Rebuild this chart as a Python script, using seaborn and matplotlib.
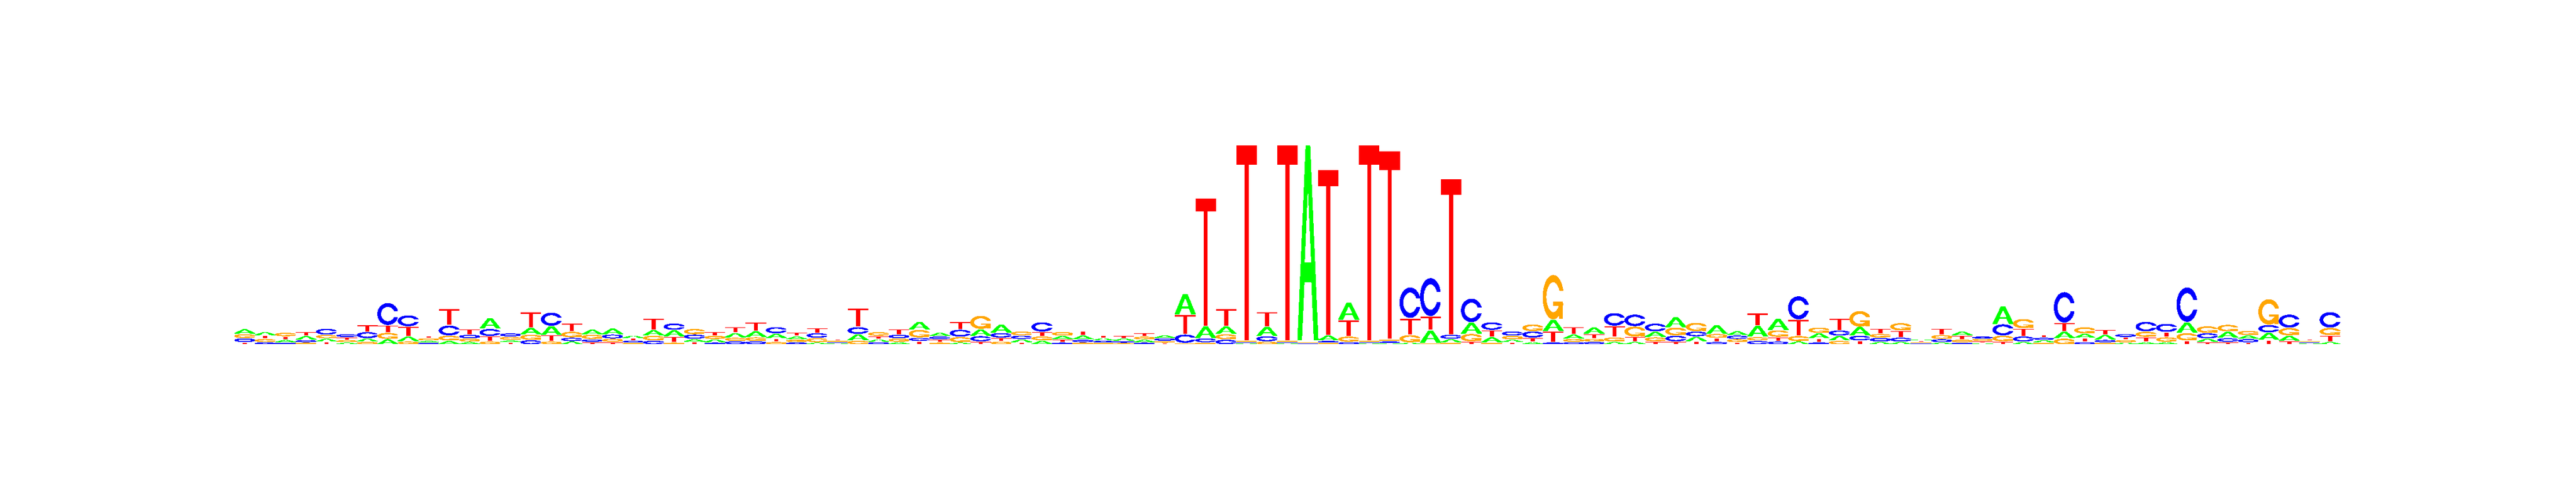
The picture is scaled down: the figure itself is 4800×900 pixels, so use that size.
import numpy as np
import matplotlib
matplotlib.use("Agg")
import matplotlib.pyplot as plt
from matplotlib.patches import Polygon
import seaborn as sns

# Letter heights per position (stack units)
A_hts = [0.04, 0.026, 0.018, 0.03, 0.022, 0.012, 0.024, 0.044, 0.04, 0.011,
         0.028, 0.017, 0.10, 0.013, 0.059, 0.083, 0.022, 0.042, 0.05, 0.018,
         0.046, 0.055, 0.018, 0.022, 0.037, 0.05, 0.04, 0.024, 0.011, 0.003,
         0.055, 0.018, 0.015, 0.072, 0.028, 0.011, 0.059, 0.074, 0.022, 0.03,
         0.027, 0.033, 0.015, 0.016, 0.018, 0.02, 0.20, 0.11, 0.07, 0.003,
         0.085, 0.003, 1.96, 0.045, 0.165, 0.003, 0.003, 0.01, 0.12, 0.025,
         0.105, 0.045, 0.018, 0.015, 0.11, 0.035, 0.055, 0.018, 0.018, 0.045,
         0.095, 0.038, 0.077, 0.033, 0.105, 0.105, 0.022, 0.045, 0.04, 0.078,
         0.018, 0.018, 0.005, 0.012, 0.033, 0.005, 0.17, 0.018, 0.015, 0.062,
         0.035, 0.04, 0.01, 0.015, 0.015, 0.10, 0.025, 0.055, 0.028, 0.065,
         0.045, 0.002, 0.018]
C_hts = [0.03, 0.013, 0.01, 0.015, 0.052, 0.022, 0.055, 0.215, 0.103, 0.008,
         0.092, 0.028, 0.064, 0.025, 0.035, 0.125, 0.028, 0.018, 0.033, 0.012,
         0.03, 0.057, 0.037, 0.011, 0.024, 0.024, 0.055, 0.013, 0.04, 0.003,
         0.061, 0.015, 0.028, 0.025, 0.022, 0.064, 0.046, 0.04, 0.028, 0.088,
         0.011, 0.018, 0.011, 0.01, 0.011, 0.018, 0.077, 0.033, 0.04, 0.003,
         0.045, 0.003, 0.003, 0.01, 0.015, 0.003, 0.01, 0.30, 0.375, 0.035,
         0.23, 0.07, 0.035, 0.055, 0.012, 0.015, 0.018, 0.12, 0.11, 0.072,
         0.05, 0.042, 0.017, 0.028, 0.028, 0.022, 0.225, 0.012, 0.045, 0.042,
         0.03, 0.033, 0.002, 0.022, 0.01, 0.015, 0.105, 0.045, 0.015, 0.30,
         0.015, 0.018, 0.022, 0.09, 0.075, 0.34, 0.045, 0.03, 0.025, 0.068,
         0.125, 0.002, 0.15]
G_hts = [0.033, 0.024, 0.03, 0.011, 0.028, 0.013, 0.018, 0.055, 0.022, 0.014,
         0.042, 0.024, 0.022, 0.024, 0.046, 0.022, 0.05, 0.037, 0.024, 0.008,
         0.04, 0.011, 0.046, 0.026, 0.026, 0.031, 0.017, 0.017, 0.035, 0.003,
         0.03, 0.031, 0.027, 0.07, 0.011, 0.046, 0.125, 0.02, 0.031, 0.033,
         0.029, 0.011, 0.008, 0.006, 0.022, 0.01, 0.005, 0.01, 0.045, 0.003,
         0.02, 0.003, 0.003, 0.008, 0.047, 0.003, 0.01, 0.066, 0.005, 0.01,
         0.068, 0.01, 0.028, 0.06, 0.44, 0.022, 0.02, 0.035, 0.095, 0.035,
         0.072, 0.078, 0.033, 0.022, 0.028, 0.06, 0.045, 0.047, 0.028, 0.15,
         0.03, 0.066, 0.002, 0.033, 0.02, 0.012, 0.05, 0.085, 0.01, 0.05,
         0.055, 0.01, 0.017, 0.045, 0.04, 0.068, 0.06, 0.06, 0.035, 0.25,
         0.068, 0.002, 0.065]
T_hts = [0.013, 0.024, 0.022, 0.033, 0.018, 0.018, 0.06, 0.065, 0.09, 0.015,
         0.16, 0.046, 0.042, 0.012, 0.147, 0.052, 0.074, 0.015, 0.015, 0.013,
         0.107, 0.05, 0.017, 0.03, 0.053, 0.079, 0.024, 0.028, 0.042, 0.006,
         0.18, 0.022, 0.048, 0.024, 0.02, 0.068, 0.02, 0.028, 0.011, 0.035,
         0.02, 0.035, 0.017, 0.018, 0.025, 0.006, 0.19, 1.28, 0.165, 1.96,
         0.14, 1.96, 0.003, 1.66, 0.155, 1.96, 1.89, 0.16, 0.13, 1.56,
         0.02, 0.06, 0.012, 0.033, 0.10, 0.066, 0.04, 0.105, 0.04, 0.02,
         0.02, 0.022, 0.028, 0.012, 0.115, 0.033, 0.155, 0.028, 0.11, 0.028,
         0.045, 0.06, 0.004, 0.055, 0.03, 0.01, 0.02, 0.07, 0.017, 0.077,
         0.03, 0.04, 0.017, 0.04, 0.04, 0.028, 0.015, 0.015, 0.01, 0.035,
         0.025, 0.008, 0.055]

letters = ["A", "C", "G", "T"]
letter_colors = {"A": "#00FF00", "C": "#0000FF", "G": "#FFA500", "T": "#FF0000"}


def ring_shape():
    a1 = np.linspace(0.3 + np.pi / 2, np.pi, 100)
    a2 = np.linspace(np.pi, 1.5 * np.pi, 100)
    xl1, yl1 = 0.5 + 0.5 * np.sin(a1), 0.5 + 0.5 * np.cos(a1)
    xl2, yl2 = 0.5 + 0.5 * np.sin(a2), 0.5 + 0.5 * np.cos(a2)
    xl = np.concatenate([xl1, xl2])
    yl = np.concatenate([yl1, yl2])
    x = np.concatenate([xl, xl[::-1]])
    y = np.concatenate([yl, 1 - yl[::-1]])
    xi1, yi1 = 0.5 + 0.35 * np.sin(a1), 0.5 + 0.35 * np.cos(a1)
    keep = yi1 <= yl1.max()
    xi1, yi1 = xi1[keep], yi1[keep].copy()
    yi1[0] = yl1.max()
    xi2, yi2 = 0.5 + 0.35 * np.sin(a2), 0.5 + 0.35 * np.cos(a2)
    xi = np.concatenate([xi1, xi2])
    yi = np.concatenate([yi1, yi2])
    x1 = np.concatenate([xi, xi[::-1]])
    y1 = np.concatenate([yi, 1 - yi[::-1]])
    x = np.concatenate([x, x1[::-1]])
    y = np.concatenate([y, y1[::-1]])
    return x, y, xl1.max()


def letter_parts(ch):
    # polygons in a unit box, with their fill colours
    col = letter_colors[ch]
    if ch == "A":
        ox = np.array([0, 4, 6, 10, 8, 6.8, 3.2, 2, 0]) * 0.1
        oy = np.array([0, 10, 10, 0, 0, 3, 3, 0, 0]) * 0.1
        ix = np.array([3.6, 5, 6.4, 3.6]) * 0.1
        iy = np.array([4, 7.5, 4, 4]) * 0.1
        return [(ox, oy, col), (ix, iy, "white")]
    if ch == "T":
        x = np.array([0, 10, 10, 6, 6, 4, 4, 0]) * 0.1
        y = np.array([10, 10, 9, 9, 0, 0, 9, 9]) * 0.1
        return [(x, y, col)]
    x, y, r1 = ring_shape()
    if ch == "C":
        return [(x, y, col)]
    h1 = 0.4
    xa = np.array([r1, 0.5, 0.5, r1 - 0.2, r1 - 0.2, r1, r1])
    ya = np.array([h1, h1, h1 - 0.1, h1 - 0.1, 0, 0, h1])
    return [(x, y, col), (xa, ya, col)]


sns.set_theme(style="white")

heights = np.array([A_hts, C_hts, G_hts, T_hts])
n_pos = heights.shape[1]

fig = plt.figure(figsize=(48, 9), dpi=100)
ax = fig.add_axes([437 / 4800, (900 - 641) / 900, 3924 / 4800, 370 / 900])

for j in range(n_pos):
    col_h = heights[:, j]
    y_pos = 0.0
    for k in np.argsort(col_h, kind="stable"):
        ht = col_h[k]
        if ht > 0:
            for px, py, fc in letter_parts(letters[k]):
                ax.add_patch(Polygon(np.column_stack([j + px, y_pos + ht * py]),
                                     closed=True, facecolor=fc, edgecolor="none",
                                     linewidth=0, antialiased=False))
        y_pos += ht + 0.01

ax.set_xlim(0, n_pos)
ax.set_ylim(0, 2)
ax.axis("off")

fig.savefig("out.png", dpi=100, facecolor="white")
